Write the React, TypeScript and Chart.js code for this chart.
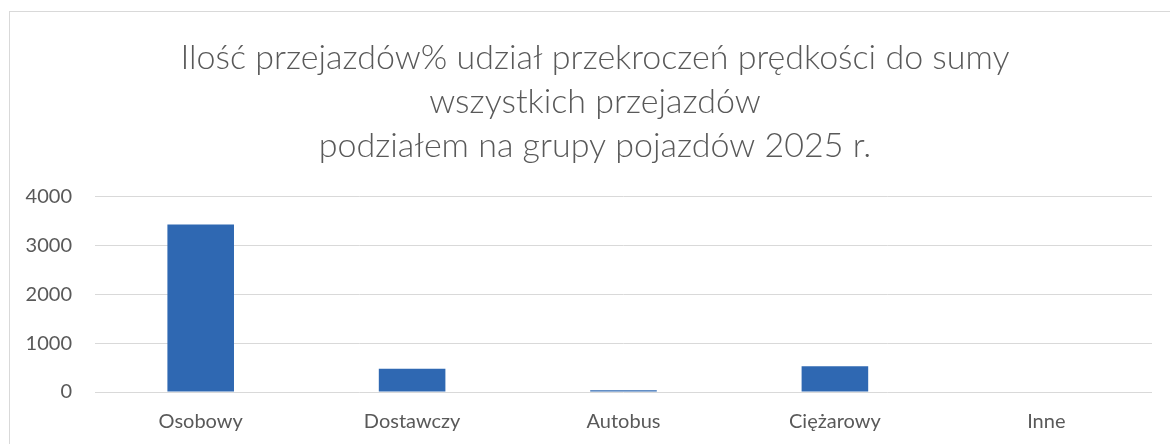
import React, { useEffect, useRef } from "react";
import { Chart, registerables } from "chart.js";

Chart.register(...registerables);

const categories = ["Osobowy", "Dostawczy", "Autobus", "Ciężarowy", "Inne"];
const values = [3430, 478, 35, 525, 0];
const yTicks = [0, 1000, 2000, 3000, 4000];
const titleLines = [
  "Ilość przejazdów% udział przekroczeń prędkości do sumy",
  "wszystkich przejazdów",
  "podziałem na grupy pojazdów 2025 r.",
];

const frame = {
  id: "frame",
  beforeDraw(chart: any) {
    const ctx = chart.ctx;
    ctx.save();
    ctx.fillStyle = "#ffffff";
    ctx.fillRect(0, 0, chart.width, chart.height);
    ctx.strokeStyle = "#D9D9D9";
    ctx.lineWidth = 1;
    ctx.strokeRect(9.5, 11.5, chart.width + 20, chart.height + 20);
    ctx.restore();
  },
};

export default function App() {
  const ref = useRef<HTMLCanvasElement>(null);
  useEffect(() => {
    const chart = new Chart(ref.current!, {
      type: "bar",
      data: {
        labels: categories,
        datasets: [
          {
            data: values,
            backgroundColor: "#2F68B2",
            borderWidth: 0,
            barPercentage: 0.63,
            categoryPercentage: 0.5,
          },
        ],
      },
      options: {
        animation: false,
        responsive: false,
        layout: { padding: { left: 20, right: 0, top: 0, bottom: 0 } },
        plugins: {
          legend: { display: false },
          tooltip: { enabled: false },
          title: {
            display: true,
            text: titleLines,
            color: "#595959",
            font: { family: "Lato", size: 34, weight: "300" as any, lineHeight: 1.3 },
            padding: { top: 36, bottom: 28 },
          },
        },
        scales: {
          x: {
            afterFit: (s: any) => {
              s.height = 52;
            },
            grid: { display: false, drawTicks: false },
            border: { display: false },
            ticks: {
              color: "#595959",
              font: { family: "Lato", size: 20 },
              padding: 18,
            },
          },
          y: {
            min: 0,
            max: 4000,
            afterFit: (s: any) => {
              s.width = 75;
            },
            afterBuildTicks: (s: any) => {
              s.ticks = yTicks.map((v) => ({ value: v }));
            },
            grid: { color: "#D9D9D9", lineWidth: 1, drawTicks: false },
            border: { display: false },
            ticks: {
              color: "#595959",
              font: { family: "Lato", size: 20 },
              padding: 23,
              callback: (v: any) => String(v),
            },
          },
          yRight: {
            position: "right",
            display: true,
            min: 0,
            max: 4000,
            afterFit: (s: any) => {
              s.width = 18;
            },
            grid: { display: false, drawTicks: false },
            border: { display: false },
            ticks: { display: false },
          },
        },
      },
      plugins: [frame],
    });
    return () => chart.destroy();
  }, []);
  return (
    <div style={{ position: "fixed", left: 0, top: 0, width: 1170, height: 444 }}>
      <canvas ref={ref} width={1170} height={444} />
    </div>
  );
}
